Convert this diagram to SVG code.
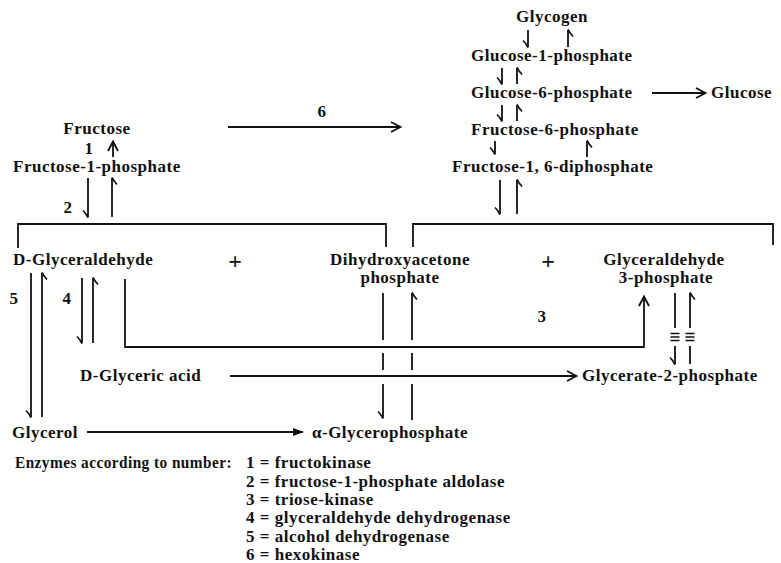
<svg xmlns="http://www.w3.org/2000/svg" width="781" height="563" viewBox="0 0 781 563">
<defs>
<style>
text{font-family:"Liberation Serif","Times New Roman",serif;font-weight:bold;font-size:17px;letter-spacing:0.5px;fill:#111}
.m{text-anchor:middle}
.p{font-size:24px;letter-spacing:0}
.c path,.c line{stroke:#111;stroke-width:1.8;fill:none}
.h{marker-end:url(#hp)}
.a{marker-end:url(#av)}
.f{marker-end:url(#af)}
</style>
<marker id="hp" viewBox="-10 -10 20 20" markerWidth="20" markerHeight="20" refX="0" refY="0" orient="auto" markerUnits="userSpaceOnUse">
<path d="M0.6,0 Q-3,1.5 -6.5,5" stroke="#111" stroke-width="1.7" fill="none"/>
</marker>
<marker id="av" viewBox="-12 -10 20 20" markerWidth="20" markerHeight="20" refX="0" refY="0" orient="auto" markerUnits="userSpaceOnUse">
<path d="M-9,-5 L0.5,0 L-9,5" stroke="#111" stroke-width="1.8" fill="none"/>
</marker>
<marker id="af" viewBox="-12 -10 20 20" markerWidth="20" markerHeight="20" refX="0" refY="0" orient="auto" markerUnits="userSpaceOnUse">
<path d="M1,0 L-10,-4 L-10,4 Z" fill="#111"/>
</marker>
</defs>
<rect width="781" height="563" fill="#fff"/>

<g id="connectors" class="c">
<line class="h" x1="528" y1="30" x2="528" y2="47"/>
<line class="h" x1="568" y1="47" x2="568" y2="30"/>
<line class="h" x1="502" y1="68" x2="502" y2="84"/>
<line class="h" x1="517" y1="84" x2="517" y2="68"/>
<line class="h" x1="502" y1="105" x2="502" y2="121"/>
<line class="h" x1="517" y1="121" x2="517" y2="105"/>
<line class="h" x1="495" y1="141" x2="495" y2="154"/>
<line class="h" x1="587" y1="157" x2="587" y2="141"/>
<line class="h" x1="500" y1="180" x2="500" y2="214"/>
<line class="h" x1="517" y1="214" x2="517" y2="180"/>
<line class="a" x1="652" y1="93" x2="705" y2="93"/>
<line class="a" x1="228" y1="127" x2="400" y2="127"/>
<line class="a" x1="113" y1="157" x2="113" y2="142"/>
<line class="h" x1="88" y1="178" x2="88" y2="217"/>
<line class="h" x1="112" y1="217" x2="112" y2="178"/>
<path d="M18,248 V224 H386 V247"/>
<path d="M413,247 V224 H773 V245"/>
<line class="h" x1="31" y1="273" x2="31" y2="417"/>
<line class="h" x1="42" y1="417" x2="42" y2="273"/>
<line class="h" x1="82" y1="278" x2="82" y2="343"/>
<line class="h" x1="93" y1="343" x2="93" y2="278"/>
<path class="a" d="M125,279 V347 H644 V297"/>
<line class="a" x1="230" y1="376" x2="576" y2="376"/>
<line class="f" x1="87" y1="432" x2="303" y2="432"/>
<line x1="383" y1="293" x2="383" y2="340"/>
<line x1="383" y1="353" x2="383" y2="370"/>
<line class="h" x1="383" y1="384" x2="383" y2="418"/>
<line class="h" x1="412" y1="340" x2="412" y2="293"/>
<line x1="412" y1="353" x2="412" y2="370"/>
<line x1="412" y1="384" x2="412" y2="420"/>
<line x1="675" y1="293" x2="675" y2="328"/>
<line class="h" x1="690" y1="328" x2="690" y2="293"/>
<path d="M670.5,333.5 H679.5 M670.5,337 H679.5 M670.5,340.5 H679.5 M685.5,333.5 H694.5 M685.5,337 H694.5 M685.5,340.5 H694.5" style="stroke-width:1.4"/>
<line class="h" x1="675" y1="346" x2="675" y2="364"/>
<line x1="690" y1="346" x2="690" y2="364"/>
</g>

<g id="glycogen"><text class="m" x="552" y="22">Glycogen</text></g>
<g id="glucose-1-phosphate"><text x="471" y="61">Glucose-1-phosphate</text></g>
<g id="glucose-6-phosphate"><text x="471" y="98">Glucose-6-phosphate</text></g>
<g id="glucose"><text x="711" y="98">Glucose</text></g>
<g id="fructose-6-phosphate"><text x="471" y="135">Fructose-6-phosphate</text></g>
<g id="fructose-1-6-diphosphate"><text x="452" y="172">Fructose-1, 6-diphosphate</text></g>
<g id="label-6"><text class="m" x="322" y="117">6</text></g>
<g id="fructose"><text class="m" x="97" y="134">Fructose</text></g>
<g id="label-1"><text class="m" x="89" y="154">1</text></g>
<g id="fructose-1-phosphate"><text x="13" y="172">Fructose-1-phosphate</text></g>
<g id="label-2"><text class="m" x="68" y="213">2</text></g>
<g id="d-glyceraldehyde"><text x="13" y="265">D-Glyceraldehyde</text></g>
<g id="plus-1"><text class="m p" x="235" y="269">+</text></g>
<g id="dihydroxyacetone-phosphate"><text class="m" x="400" y="265">Dihydroxyacetone</text><text class="m" x="400" y="283">phosphate</text></g>
<g id="plus-2"><text class="m p" x="548" y="269">+</text></g>
<g id="glyceraldehyde-3-phosphate"><text class="m" x="664" y="265">Glyceraldehyde</text><text class="m" x="666" y="283">3-phosphate</text></g>
<g id="label-5"><text class="m" x="14" y="304">5</text></g>
<g id="label-4"><text class="m" x="67" y="304">4</text></g>
<g id="label-3"><text class="m" x="542" y="322">3</text></g>
<g id="d-glyceric-acid"><text x="80" y="381">D-Glyceric acid</text></g>
<g id="glycerate-2-phosphate"><text x="582" y="381">Glycerate-2-phosphate</text></g>
<g id="glycerol"><text x="12" y="438">Glycerol</text></g>
<g id="alpha-glycerophosphate"><text x="312" y="438">α-Glycerophosphate</text></g>
<g id="legend">
<text x="15" y="468" textLength="217" lengthAdjust="spacingAndGlyphs">Enzymes according to number:</text>
<text x="246" y="468">1 = fructokinase</text>
<text x="246" y="486.5">2 = fructose-1-phosphate aldolase</text>
<text x="246" y="505">3 = triose-kinase</text>
<text x="246" y="523">4 = glyceraldehyde dehydrogenase</text>
<text x="246" y="541.5">5 = alcohol dehydrogenase</text>
<text x="246" y="559.5">6 = hexokinase</text>
</g>
</svg>
